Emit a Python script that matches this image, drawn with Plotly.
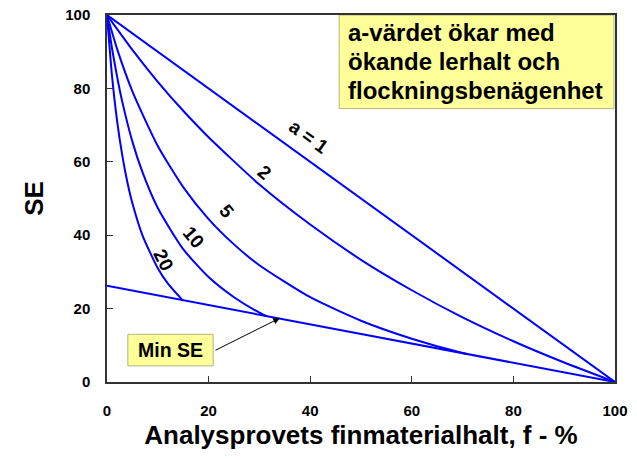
import plotly.graph_objects as go

# ---- data ----
f_a1 = [0, 100]
se_a1 = [100, 0]

f_a2 = [0, 5, 10, 15, 20, 30, 40, 50, 60, 70, 80, 90, 100]
se_a2 = [100, 90.5, 81.8, 73.9, 66.7, 53.8, 42.9, 33.3, 25.0, 17.6, 11.1, 5.3, 0]

f_a5 = [0, 2, 5, 10, 15, 20, 25, 30, 40, 50, 60, 70, 71]
se_a5 = [100, 90.7, 79.2, 64.3, 53.1, 44.4, 37.5, 31.8, 23.1, 16.7, 11.8, 7.9, 7.6]

f_a10 = [0, 1, 2, 3, 5, 7, 10, 15, 20, 25, 30, 31.5]
se_a10 = [100, 90.8, 83.1, 76.4, 65.5, 57.1, 47.4, 36.2, 28.6, 23.1, 18.9, 17.9]

f_a20 = [0, 1, 2, 3, 4, 5, 7, 10, 12, 15]
se_a20 = [100, 83.2, 71.0, 61.8, 54.5, 48.7, 39.9, 31.0, 26.8, 22.1]

f_min = [0, 100]
se_min = [26.2, 0]

curve_labels = ["a = 1", "2", "5", "10", "20"]
label_x = [39.6, 31.0, 23.6, 17.1, 11.2]
label_y = [66.8, 57.0, 46.4, 39.4, 33.2]
label_angle = [36, 40, 50, 50, 63]

box_lines = ["a-värdet ökar med", "ökande lerhalt och", "flockningsbenägenhet"]
box_line_y = [95.1, 87.3, 79.4]

x_ticks = [0, 20, 40, 60, 80, 100]
y_ticks = [0, 20, 40, 60, 80, 100]

BLUE = "#0000FF"
FONT = "Liberation Sans, Arial, sans-serif"

fig = go.Figure()
for fx, sy in [(f_a1, se_a1), (f_a2, se_a2), (f_a5, se_a5), (f_a10, se_a10),
               (f_a20, se_a20), (f_min, se_min)]:
    fig.add_trace(go.Scatter(x=fx, y=sy, mode="lines",
                             line=dict(color=BLUE, width=2, shape="spline", smoothing=0.6),
                             showlegend=False, hoverinfo="skip"))

for t, x, y, ang in zip(curve_labels, label_x, label_y, label_angle):
    fig.add_annotation(x=x, y=y, text="<b>%s</b>" % t, showarrow=False,
                       textangle=ang, font=dict(family=FONT, size=19, color="black"))

# yellow note box
fig.add_shape(type="rect", x0=45.7, x1=99.8, y0=74.5, y1=100,
              fillcolor="#FFFF99", line=dict(color="#B4B482", width=1), layer="above")
for t, y in zip(box_lines, box_line_y):
    fig.add_annotation(x=47.1, y=y, text="<b>%s</b>" % t, showarrow=False,
                       xanchor="left", yanchor="middle",
                       font=dict(family=FONT, size=24, color="black"))

# Min SE box
fig.add_shape(type="rect", x0=4.1, x1=20.9, y0=4.4, y1=13.0,
              fillcolor="#FFFF99", line=dict(color="#B4B482", width=1), layer="above")
fig.add_annotation(x=12.5, y=8.7, text="<b>Min SE</b>", showarrow=False,
                   xanchor="center", yanchor="middle",
                   font=dict(family=FONT, size=19.5, color="black"))
fig.add_annotation(x=34.0, y=17.4, ax=21.06, ay=8.45, xref="x", yref="y",
                   axref="x", ayref="y", text="", showarrow=True,
                   arrowhead=2, arrowsize=1.3, arrowwidth=1, arrowcolor="black")

axis_common = dict(showgrid=False, zeroline=False, showline=True, mirror=True,
                   linecolor="#333333", linewidth=1.5, ticks="inside", ticklen=6,
                   tickcolor="#333333", automargin=False, ticklabeloverflow="allow",
                   tickfont=dict(family=FONT, size=15, color="black"))

fig.update_xaxes(range=[0, 100], tickvals=x_ticks,
                 ticktext=["<b>%d</b>" % v for v in x_ticks],
                 ticklabelstandoff=14,
                 title=dict(text="<b>Analysprovets finmaterialhalt, f - %</b>", standoff=8,
                            font=dict(family=FONT, size=26, color="black")),
                 **axis_common)
fig.update_yaxes(range=[0, 100], tickvals=y_ticks,
                 ticktext=["<b>%d</b>" % v for v in y_ticks],
                 ticklabelstandoff=12,
                 title=dict(text="<b>SE</b>", standoff=14,
                            font=dict(family=FONT, size=26, color="black")),
                 **axis_common)

fig.update_layout(width=637, height=460, margin=dict(l=107, r=22, t=15, b=78),
                  plot_bgcolor="white", paper_bgcolor="white")

# remove the browser's default 8px page margin so the figure fills the window
fig.write_html("out.html", config={"displayModeBar": False},
               post_script="document.body.style.margin='0px';")
